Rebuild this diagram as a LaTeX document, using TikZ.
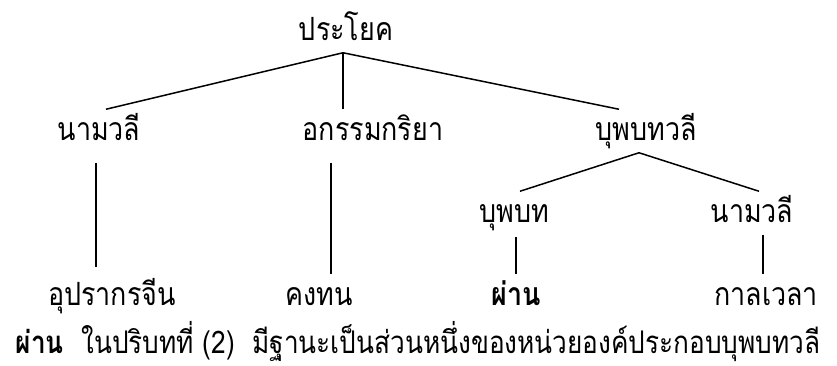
\documentclass[tikz,border=0pt]{standalone}
\usepackage{fontspec}
\newfontfamily\thaifont[Script=Thai,FakeStretch=0.84]{Loma}
\usepackage{tikz}
\usetikzlibrary{positioning}

\begin{document}
\begin{tikzpicture}[x=0.5pt, y=-0.5pt, line width=0.75pt]
   \useasboundingbox (0,0) rectangle (837,365);
   \begin{scope}[every node/.style={anchor=base, inner sep=0pt, text height=15pt, text depth=6pt, font=\thaifont\fontsize{16pt}{18pt}\selectfont}]
    \node (s) at (346,40) {ประโยค};
    \node (np) at (99,140) {นามวลี};
    \node (vi) at (373,140) {อกรรมกริยา};
    \node (pp) at (646,140) {บุพบทวลี};
    \node (prep) at (514,222) {บุพบท};
    \node (np2) at (752,222) {นามวลี};
    \node (w1) at (112,305) {อุปรากรจีน};
    \node (w2) at (319,305) {คงทน};
    \node (w3) at (516,305) {\textbf{ผ่าน}};
    \node (w4) at (766,305) {กาลเวลา};
    \node (note) [anchor=base west, font=\thaifont\fontsize{15.6pt}{18pt}\selectfont] at (15,353) {\textbf{ผ่าน}\ \ ในปริบทที่ (2)\ \ มีฐานะเป็นส่วนหนึ่งของหน่วยองค์ประกอบบุพบทวลี};
   \end{scope}
   \begin{scope}[every edge/.style={draw=black}]
    \draw ([xshift=-1.5pt]s.south) edge ([xshift=3.5pt]np.north);
    \draw ([xshift=-1.5pt]s.south) edge [line width=0.55pt] ([xshift=-15pt]vi.north);
    \draw ([xshift=-1.5pt]s.south) edge ([xshift=-13.5pt]pp.north);
    \draw ([xshift=-3.5pt]pp.south) edge ([xshift=3pt]prep.north);
    \draw ([xshift=-3.5pt]pp.south) edge ([xshift=3.5pt]np2.north);
    \draw ([xshift=-1.5pt]np.south) edge [line width=0.55pt, shorten <=5pt, shorten >=3.5pt] ([xshift=-8pt]w1.north);
    \draw ([xshift=-21pt]vi.south) edge [line width=0.55pt, shorten <=5pt] ([xshift=6pt]w2.north);
    \draw ([xshift=1pt]prep.south) edge [line width=0.55pt, shorten <=1pt] (w3.north);
    \draw ([xshift=5.5pt]np2.south) edge [line width=0.55pt] ([xshift=-1.5pt]w4.north);
   \end{scope}
\end{tikzpicture}
\end{document}
